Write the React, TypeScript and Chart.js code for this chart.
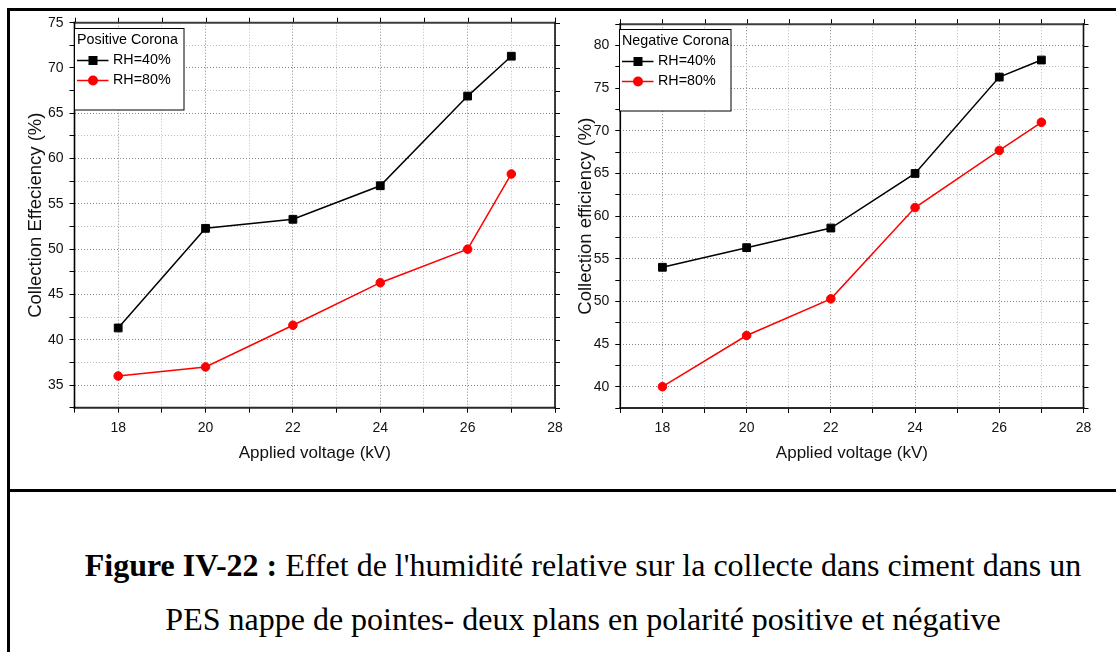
import React, { useEffect, useRef } from 'react';
import { Chart, registerables } from 'chart.js';

Chart.register(...registerables);

// ---- data ----
const voltages = [18, 20, 22, 24, 26, 27];
const positiveRH40 = [41.3, 52.3, 53.3, 57.0, 66.9, 71.3];
const positiveRH80 = [36.0, 37.0, 41.6, 46.3, 50.0, 58.3];
const negativeRH40 = [54.0, 56.3, 58.6, 65.0, 76.3, 78.3];
const negativeRH80 = [40.0, 46.0, 50.3, 61.0, 67.7, 71.0];
const seriesLabels = ['RH=40%', 'RH=80%'];
const legendTitles = ['Positive Corona', 'Negative Corona'];
const yTitles = ['Collection Effeciency (%)', 'Collection efficiency (%)'];
const xTitle = 'Applied voltage (kV)';
const xRange = [17, 28];
const yRangePositive = [32.5, 75];
const yRangeNegative = [37.5, 82.5];
const captionBold = 'Figure IV-22 :';
const captionLine1 = " Effet de l'humidité relative sur la collecte dans ciment dans un";
const captionLine2 = 'PES nappe de pointes- deux plans en polarité positive et négative';

const SANS = '"Liberation Sans", Arial, Helvetica, sans-serif';

const framePlugin = {
  id: 'frame',
  afterDraw(chart: any) {
    const { ctx, chartArea: ca, scales } = chart;
    const x = scales.x;
    const y = scales.y;
    const line = (x1: number, y1: number, x2: number, y2: number, color: string, w: number) => {
      ctx.beginPath();
      ctx.strokeStyle = color;
      ctx.lineWidth = w;
      ctx.moveTo(x1, y1);
      ctx.lineTo(x2, y2);
      ctx.stroke();
    };
    ctx.save();
    x.ticks.forEach((t: any) => {
      const px = Math.round(x.getPixelForValue(t.value)) + 0.5;
      line(px, ca.top, px, ca.top - 5, '#000', 1);
    });
    y.ticks.forEach((t: any) => {
      const py = Math.round(y.getPixelForValue(t.value)) + 0.5;
      line(ca.right, py, ca.right + 5, py, '#000', 1);
    });
    line(ca.left - 1, ca.top, ca.right + 1, ca.top, '#3c3c3c', 2);
    line(ca.left - 1, ca.bottom, ca.right + 1, ca.bottom, '#2a2a2a', 2);
    line(ca.left, ca.top - 1, ca.left, ca.bottom + 1, '#000', 1.6);
    line(ca.right, ca.top - 1, ca.right, ca.bottom + 1, '#111', 1.6);
    ctx.restore();
  },
};

const boxLegendPlugin = {
  id: 'boxLegend',
  afterDraw(chart: any, _args: any, opts: any) {
    const { ctx, chartArea: ca } = chart;
    const x0 = Math.round(ca.left - 1) + 0.5;
    const y0 = Math.round(ca.top + opts.dy) + 0.5;
    ctx.save();
    ctx.fillStyle = '#fff';
    ctx.fillRect(x0, y0, opts.width, opts.height);
    ctx.strokeStyle = '#000';
    ctx.lineWidth = 1;
    ctx.strokeRect(x0, y0, opts.width, opts.height);
    ctx.font = `14.3px ${SANS}`;
    ctx.fillStyle = '#000';
    ctx.textBaseline = 'middle';
    ctx.textAlign = 'left';
    ctx.fillText(opts.title, x0 + 2.5, y0 + 12);
    chart.data.datasets.forEach((ds: any, i: number) => {
      const cy = y0 + 32 + i * 20;
      ctx.beginPath();
      ctx.strokeStyle = ds.borderColor;
      ctx.lineWidth = 1.5;
      ctx.moveTo(x0 + 2.5, cy);
      ctx.lineTo(x0 + 34, cy);
      ctx.stroke();
      ctx.fillStyle = ds.borderColor;
      const mx = x0 + 18.5;
      if (ds.pointStyle === 'rect') {
        ctx.fillRect(mx - 4.5, cy - 4.5, 9, 9);
      } else {
        ctx.beginPath();
        ctx.arc(mx, cy, 5, 0, Math.PI * 2);
        ctx.fill();
      }
      ctx.fillStyle = '#000';
      ctx.fillText(ds.label, x0 + 38.5, cy);
    });
    ctx.restore();
  },
};

type Geo = {
  padLeft: number;
  padTop: number;
  padRight: number;
  yWidth: number;
  xHeight: number;
  legendWidth: number;
  legendDy: number;
};

function buildConfig(
  s40: number[],
  s80: number[],
  yRange: number[],
  yTitle: string,
  legendTitle: string,
  geo: Geo
) {
  const gridColor = (major: (v: number) => boolean) => (c: any) =>
    c.tick && major(c.tick.value) ? '#858585' : '#bdbdbd';
  const isMajorX = (v: number) => Math.round(v) % 2 === 0;
  const isMajorY = (v: number) => Math.round(v * 10) % 50 === 0;
  return {
    type: 'line',
    data: {
      datasets: [
        {
          label: seriesLabels[0],
          data: voltages.map((v, i) => ({ x: v, y: s40[i] })),
          borderColor: '#000000',
          backgroundColor: '#000000',
          pointBackgroundColor: '#000000',
          pointBorderColor: '#000000',
          borderWidth: 1.5,
          pointStyle: 'rect',
          pointRadius: 5.5,
          pointBorderWidth: 1,
        },
        {
          label: seriesLabels[1],
          data: voltages.map((v, i) => ({ x: v, y: s80[i] })),
          borderColor: '#ff0000',
          backgroundColor: '#ff0000',
          pointBackgroundColor: '#ff0000',
          pointBorderColor: '#ff0000',
          borderWidth: 1.5,
          pointStyle: 'circle',
          pointRadius: 4.3,
          pointBorderWidth: 1,
        },
      ],
    },
    options: {
      animation: false,
      responsive: false,
      maintainAspectRatio: false,
      events: [],
      layout: { padding: { left: geo.padLeft, top: geo.padTop, right: geo.padRight, bottom: 0 } },
      plugins: {
        legend: { display: false },
        tooltip: { enabled: false },
        boxLegend: { title: legendTitle, width: geo.legendWidth, height: 81.5, dy: geo.legendDy },
      },
      scales: {
        x: {
          type: 'linear',
          min: xRange[0],
          max: xRange[1],
          ticks: {
            stepSize: 1,
            autoSkip: false,
            maxRotation: 0,
            padding: 7,
            color: '#111',
            font: { family: SANS, size: 14 },
            callback: (v: any) => (Math.round(v) % 2 === 0 ? String(v) : ''),
          },
          grid: {
            color: gridColor(isMajorX),
            lineWidth: 1,
            tickLength: 5,
            tickColor: '#000',
            tickWidth: 1,
          },
          border: { display: false, dash: [1, 2] },
          title: {
            display: true,
            text: xTitle,
            color: '#111',
            padding: 0,
            font: { family: SANS, size: 17 },
          },
          afterFit: (s: any) => {
            s.height = geo.xHeight;
            s.paddingLeft = 0;
            s.paddingRight = 0;
          },
        },
        y: {
          type: 'linear',
          min: yRange[0],
          max: yRange[1],
          ticks: {
            stepSize: 2.5,
            autoSkip: false,
            padding: 6,
            color: '#111',
            font: { family: SANS, size: 14 },
            callback: (v: any) => (Math.round(v * 10) % 50 === 0 ? String(v) : ''),
          },
          grid: {
            color: gridColor(isMajorY),
            lineWidth: 1,
            tickLength: 5,
            tickColor: '#000',
            tickWidth: 1,
          },
          border: { display: false, dash: [1, 2] },
          title: {
            display: true,
            text: yTitle,
            color: '#111',
            padding: 0,
            font: { family: SANS, size: 18.5 },
          },
          afterFit: (s: any) => {
            s.width = geo.yWidth;
            s.paddingTop = 0;
            s.paddingBottom = 0;
          },
        },
      },
    },
    plugins: [framePlugin, boxLegendPlugin],
  };
}

function LineChart(props: {
  left: number;
  top: number;
  width: number;
  height: number;
  s40: number[];
  s80: number[];
  yRange: number[];
  yTitle: string;
  legendTitle: string;
  geo: Geo;
}) {
  const ref = useRef<HTMLCanvasElement | null>(null);
  useEffect(() => {
    if (!ref.current) return;
    const chart = new Chart(
      ref.current,
      buildConfig(props.s40, props.s80, props.yRange, props.yTitle, props.legendTitle, props.geo) as any
    );
    return () => chart.destroy();
  }, []);
  return (
    <canvas
      ref={ref}
      width={props.width}
      height={props.height}
      style={{
        position: 'absolute',
        left: props.left,
        top: props.top,
        width: props.width,
        height: props.height,
      }}
    />
  );
}

const captionStyle: React.CSSProperties = {
  position: 'absolute',
  left: 8,
  width: 1150,
  textAlign: 'center',
  fontFamily: '"Liberation Serif", "Times New Roman", serif',
  fontSize: 32,
  lineHeight: '32px',
  color: '#000',
  whiteSpace: 'nowrap',
};

export default function App() {
  const black = '#000';
  return (
    <div
      style={{
        position: 'absolute',
        left: 0,
        top: 0,
        width: 1116,
        height: 652,
        overflow: 'hidden',
        background: '#fff',
      }}
    >
      <div style={{ position: 'absolute', left: 7, top: 8, width: 1109, height: 3, background: black }} />
      <div style={{ position: 'absolute', left: 7, top: 8, width: 3, height: 644, background: black }} />
      <div style={{ position: 'absolute', left: 7, top: 489, width: 1109, height: 3, background: black }} />
      <LineChart
        left={12}
        top={12}
        width={553}
        height={452}
        s40={positiveRH40}
        s80={positiveRH80}
        yRange={yRangePositive}
        yTitle={yTitles[0]}
        legendTitle={legendTitles[0]}
        geo={{ padLeft: 12.9, padTop: 10.7, padRight: 10, yWidth: 49.6, xHeight: 56.3, legendWidth: 109.5, legendDy: 5.6 }}
      />
      <LineChart
        left={565}
        top={12}
        width={535}
        height={452}
        s40={negativeRH40}
        s80={negativeRH80}
        yRange={yRangeNegative}
        yTitle={yTitles[1]}
        legendTitle={legendTitles[1]}
        geo={{ padLeft: 9.4, padTop: 12.2, padRight: 16.5, yWidth: 45.9, xHeight: 56, legendWidth: 111.5, legendDy: 5.1 }}
      />
      <div style={{ ...captionStyle, top: 549 }}>
        <b>{captionBold}</b>
        {captionLine1}
      </div>
      <div style={{ ...captionStyle, top: 603 }}>{captionLine2}</div>
    </div>
  );
}
